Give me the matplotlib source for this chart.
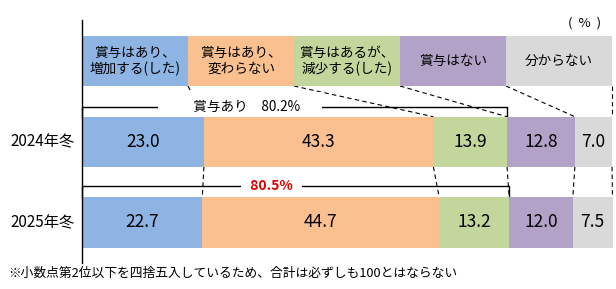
import numpy as np
import matplotlib
matplotlib.use("Agg")
import matplotlib.pyplot as plt

plt.rcParams['font.family'] = ['Noto Sans CJK JP', 'DejaVu Sans']

# data
categories = ["賞与はあり、\n増加する(した)", "賞与はあり、\n変わらない",
              "賞与はあるが、\n減少する(した)", "賞与はない", "分からない"]
colors = ["#8EB4E3", "#FAC090", "#C3D69B", "#B3A2C7", "#D9D9D9"]
years = ["2024年冬", "2025年冬"]
values_2024 = [23.0, 43.3, 13.9, 12.8, 7.0]
values_2025 = [22.7, 44.7, 13.2, 12.0, 7.5]
bonus_total = [80.2, 80.5]
note = "※小数点第2位以下を四捨五入しているため、合計は必ずしも100とはならない"

# layout (pixels of a 616x289 image)
W, H = 616, 289
X0, PX = 82, 5.3          # x pixel of 0 %, pixels per 1 %
Y0, PY = 61, 80.75        # y pixel of legend row, pixels per row
bar_h = 0.62

fig = plt.figure(figsize=(W / 100, H / 100), dpi=100)
ax = fig.add_axes([0, 0, 1, 1])
ax.set_xlim(-X0 / PX, (W - X0) / PX)
ax.set_ylim((H - Y0) / PY, -Y0 / PY)
ax.axis("off")

# legend boxes on top row
n = len(categories)
box_w = 100 / n
legend_edges = np.arange(1, n + 1) * box_w
for i, (lab, c) in enumerate(zip(categories, colors)):
    ax.barh(0, box_w, left=i * box_w, height=bar_h, color=c, zorder=4)
    ax.text(i * box_w + box_w / 2, 0, lab, ha="center", va="center",
            fontsize=9.8, linespacing=1.15, zorder=5)

# stacked bars
rows = [values_2024, values_2025]
edges = []
for r, vals in enumerate(rows, start=1):
    vals = np.array(vals)
    right = np.cumsum(vals)
    left = right - vals
    edges.append(right)
    ax.barh(r, vals, left=left, height=bar_h, color=colors, zorder=4)
    for l, v in zip(left, vals):
        ax.text(l + v / 2, r, f"{v:.1f}", ha="center", va="center",
                fontsize=12.5, zorder=5)
    ax.text(-1.3, r, years[r - 1], ha="right", va="center", fontsize=11)

# dashed connectors
dash = dict(color="black", lw=0.8, ls=(0, (4, 3)), zorder=1)
for a, b in zip(legend_edges, edges[0]):
    ax.plot([a, b], [bar_h / 2, 1 - bar_h / 2], **dash)
for a, b in zip(edges[0], edges[1]):
    ax.plot([a, b], [1 + bar_h / 2, 2 - bar_h / 2], **dash)

# brackets for "bonus yes"
yb = [0.57, 1.548]
for r in range(2):
    top = r + 1 - bar_h / 2
    end = edges[r][2]
    ax.plot([0, 0, end, end], [top, yb[r], yb[r], top],
            color="black", lw=1, zorder=2)
ax.text(29.8, yb[0], f"　　賞与あり　{bonus_total[0]}%　", ha="center",
        va="center", fontsize=9.8, zorder=3,
        bbox=dict(facecolor="white", edgecolor="none", pad=6))
ax.text(35.7, yb[1], f"  {bonus_total[1]}%  ", ha="center", va="center",
        fontsize=10, color="#E00000", fontweight="bold", zorder=3,
        bbox=dict(facecolor="white", edgecolor="none", pad=2))

# vertical axis line
ax.plot([0, 0], [(20 - Y0) / PY, (263 - Y0) / PY], color="black", lw=1,
        zorder=6)

ax.text((585 - X0) / PX, (23 - Y0) / PY, "(  %  )", ha="center", va="center",
        fontsize=9.5)
fig.text(8 / W, 1 - 273 / H, note, ha="left", va="center", fontsize=9.2)

fig.savefig("out.png", dpi=100)
